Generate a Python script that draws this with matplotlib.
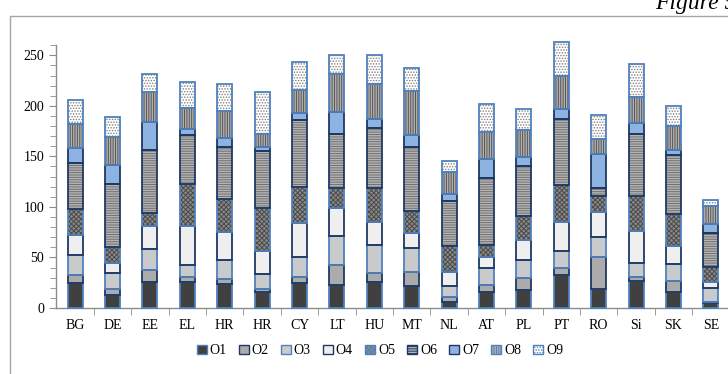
import numpy as np
import matplotlib
matplotlib.use("Agg")
import matplotlib.pyplot as plt
from matplotlib.patches import Patch
from matplotlib.lines import Line2D
from matplotlib.ticker import MultipleLocator

countries = ["BG", "DE", "EE", "EL", "HR", "HR", "CY", "LT", "HU", "MT",
             "NL", "AT", "PL", "PT", "RO", "Si", "SK", "SE"]
series_names = ["O1", "O2", "O3", "O4", "O5", "O6", "O7", "O8", "O9"]

o1 = [25, 13, 26, 25.5, 23.5, 16, 25, 23, 25.5, 22, 6, 16, 18, 33, 19, 26.5, 16, 4.5]
o2 = [8, 6, 11.5, 5, 5.5, 3, 6, 19.5, 9.5, 14, 5, 6.5, 11.5, 7, 31.5, 4.5, 11, 1]
o3 = [19, 16, 20.5, 12, 18, 14.5, 19, 28.5, 27.5, 23.5, 11, 17, 17.5, 16, 20, 14, 17, 14]
o4 = [20.5, 10, 23, 39, 28.5, 22.5, 34.5, 28, 22.5, 15, 14, 11, 20.5, 29, 24, 31.5, 17, 6]
o5 = [25, 15, 12.5, 41, 32.5, 43, 35, 20, 33.5, 21, 25, 11.5, 23.5, 37, 16.5, 34.5, 31.5, 15]
o6 = [46, 62.5, 62.5, 49, 51, 56, 66, 53, 60, 64, 44.5, 66.5, 49, 64.5, 8, 61, 58.5, 34]
o7 = [14.5, 18.5, 28, 6, 9, 4, 7.5, 22, 8.5, 11.5, 7.5, 18.5, 9, 10, 33, 11.5, 5, 8.5]
o8 = [24.5, 28, 29.5, 20, 26.5, 13.5, 22.5, 37, 34.5, 44, 21.5, 27, 27.5, 33.5, 15, 25.5, 24.5, 18]
o9 = [23, 20, 18, 26.5, 27, 41, 27.5, 19, 29, 22, 11, 27.5, 20, 33, 24, 32.5, 19, 5.5]
values = [o1, o2, o3, o4, o5, o6, o7, o8, o9]

# fill, hatch, hatch colour, border colour per series
styles = [
    ("#404040", "", "#404040", "#4f81bd"),
    ("#ababab", "", "#ababab", "#1f3864"),
    ("#c9cacc", "", "#c9cacc", "#4f81bd"),
    ("#efefef", "", "#efefef", "#1f3864"),
    ("#8a8a8a", "xxxxxxx", "#4a4a4a", "#4f81bd"),
    ("#b4b4b4", "-------", "#707070", "#1f3864"),
    ("#8db3e2", "", "#8db3e2", "#1f3864"),
    ("#b0b0b0", "|||||||", "#555555", "#4f81bd"),
    ("#ffffff", "......", "#808080", "#4f81bd"),
]

plt.rcParams["font.family"] = ["Liberation Serif", "DejaVu Serif"]
plt.rcParams["hatch.linewidth"] = 0.7

fig = plt.figure(figsize=(7.28, 3.74), dpi=100)
ax = fig.add_axes([0.0776, 0.1765, 0.9245, 0.7027])

x = np.arange(len(countries))
bottom = np.zeros(len(countries))
handles = []
for vals, (fc, hatch, hc, ec) in zip(values, styles):
    vals = np.array(vals, dtype=float)
    ax.bar(x, vals, 0.4, bottom=bottom, color=fc, hatch=hatch, edgecolor=hc,
           linewidth=0, clip_on=False, zorder=2)
    ax.bar(x, vals, 0.4, bottom=bottom, fill=False, edgecolor=ec,
           linewidth=1.3, clip_on=False, zorder=3)
    handles.append(Patch(facecolor=fc, hatch=hatch, edgecolor=ec, linewidth=1.0))
    bottom += vals

ax.set_xlim(-0.5, len(countries) - 0.5)
ax.set_ylim(0, 260)
ax.yaxis.set_major_locator(MultipleLocator(50))
ax.yaxis.set_minor_locator(MultipleLocator(10))
ax.set_xticks(x)
ax.set_xticklabels(countries)
ax.set_xticks(np.arange(len(countries)) + 0.5, minor=True)

for s in ["top", "right"]:
    ax.spines[s].set_visible(False)
for s in ["left", "bottom"]:
    ax.spines[s].set_color("#8c8c8c")
    ax.spines[s].set_linewidth(1.0)

ax.tick_params(axis="y", which="major", length=5, color="#8c8c8c", labelsize=10, pad=4)
ax.tick_params(axis="y", which="minor", length=4, color="#8c8c8c")
ax.tick_params(axis="x", which="major", length=0, labelsize=10, pad=8)
ax.tick_params(axis="x", which="minor", length=5, color="#8c8c8c")

fig.legend(handles, series_names, loc="center", bbox_to_anchor=(0.522, 0.062),
           ncol=9, frameon=False, fontsize=10, handlelength=0.7, handleheight=0.7,
           handletextpad=0.2, columnspacing=0.9)

# chart area border
fig.add_artist(Line2D([10 / 728, 10 / 728, 1.0], [0.0, 1 - 16 / 374, 1 - 16 / 374],
                      color="#a6a6a6", linewidth=1.0))
fig.text(655 / 728, 1 - 9 / 374, "Figure 5", fontsize=17, style="italic",
         va="baseline", ha="left")

fig.savefig("out.png", dpi=100)
